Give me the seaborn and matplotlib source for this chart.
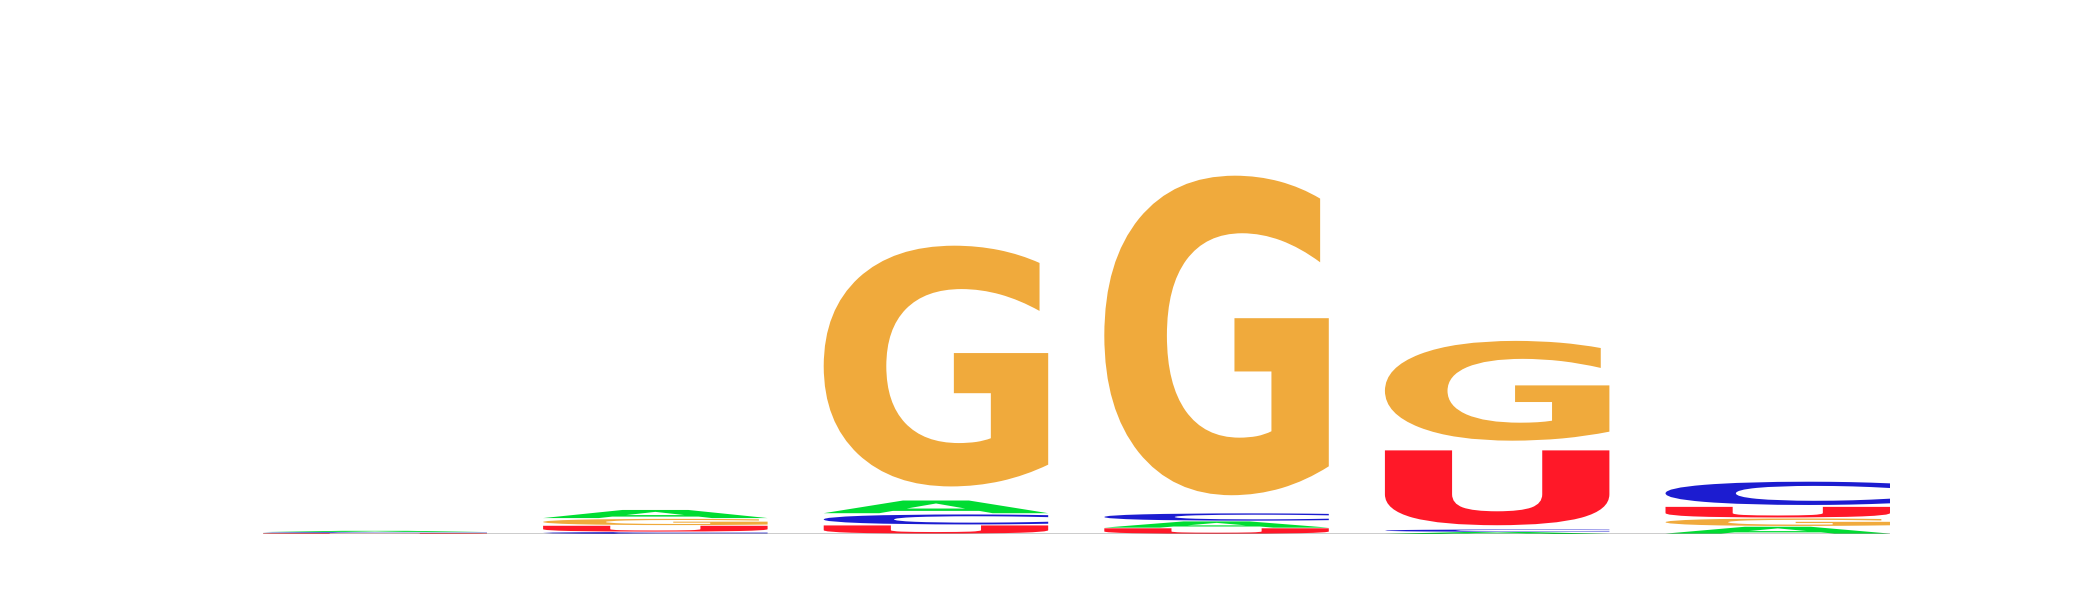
import numpy as np
import pandas as pd
import matplotlib
matplotlib.use("Agg")
import matplotlib.pyplot as plt
import seaborn as sns
from matplotlib.textpath import TextPath
from matplotlib.patches import PathPatch
from matplotlib.font_manager import FontProperties
from matplotlib.transforms import Affine2D

## Information content (bits) per nucleotide at each of the 6 positions
positions = [1, 2, 3, 4, 5, 6]
A = [0.006, 0.039, 0.061, 0.030, 0.009, 0.033]
C = [0.004, 0.009, 0.048, 0.035, 0.011, 0.112]
G = [0.001, 0.030, 1.158, 1.537, 0.480, 0.036]
U = [0.003, 0.028, 0.039, 0.026, 0.360, 0.051]

colors = {'A': '#00DC32', 'C': '#1C1CD0', 'G': '#F0AA3C', 'U': '#FF1828'}

df = pd.DataFrame({'A': A, 'C': C, 'G': G, 'U': U}, index=positions)

sns.set_style('white')
fig, ax = plt.subplots(figsize=(10.5, 3), dpi=200)

font = FontProperties(family='DejaVu Sans', weight='bold')
width = 0.8
vpad = 0.1

## Stack letters per column, smallest at the bottom
for i, pos in enumerate(df.index):
    row = df.loc[pos].sort_values()
    floor = 0.0
    for letter, h in row.items():
        path = TextPath((0, 0), letter, size=1, prop=font)
        bb = path.get_extents()
        gh = h * (1 - vpad)
        tr = (Affine2D()
              .translate(-bb.x0, -bb.y0)
              .scale(width / bb.width, gh / bb.height)
              .translate(i - width / 2, floor + h * vpad / 2))
        patch = PathPatch(tr.transform_path(path), facecolor=colors[letter],
                          edgecolor='none')
        ax.add_patch(patch)
        floor += h

ax.axhline(0, color='black', linewidth=0.5, zorder=10)
ax.set_xlim(-0.5 * width, len(positions) - 1 + 0.5 * width)
ax.set_ylim(0, 2)
ax.set_xticks([])
ax.set_yticks([])
sns.despine(ax=ax, left=True, bottom=True)

plt.savefig('out.png', dpi=200)
